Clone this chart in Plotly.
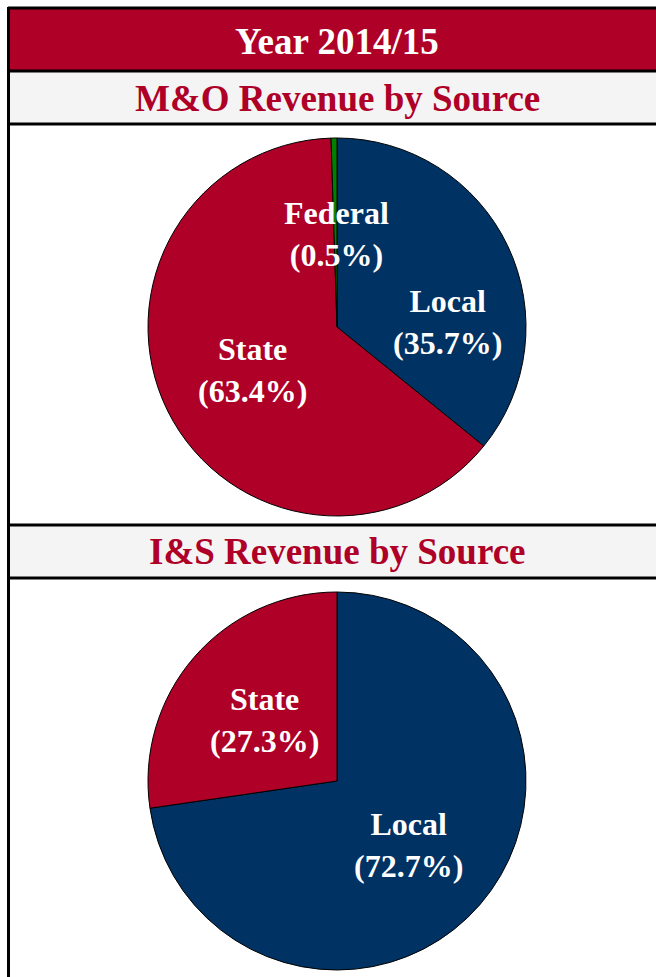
import plotly.graph_objects as go

# chart data
mo_labels = ["Local", "State", "Federal"]
mo_values = [35.7, 63.4, 0.5]
is_labels = ["Local", "State"]
is_values = [72.7, 27.3]

RED = "#AF0028"
NAVY = "#003263"
GREEN = "#008000"
W, H = 656, 977
FONT = "Liberation Serif"


def px_x(x):
    return x / W


def px_y(y):
    return 1 - y / H


def pie_domain(cx, cy, r):
    return dict(x=[px_x(cx - r), px_x(cx + r)], y=[px_y(cy + r), px_y(cy - r)])


fig = go.Figure()

fig.add_trace(go.Pie(
    labels=mo_labels, values=mo_values, sort=False, direction="clockwise",
    marker=dict(colors=[NAVY, RED, GREEN], line=dict(color="black", width=1)),
    textinfo="none", hoverinfo="label+percent", showlegend=False,
    domain=pie_domain(337, 327, 189),
))
fig.add_trace(go.Pie(
    labels=is_labels, values=is_values, sort=False, direction="clockwise",
    marker=dict(colors=[NAVY, RED], line=dict(color="black", width=1)),
    textinfo="none", hoverinfo="label+percent", showlegend=False,
    domain=pie_domain(337, 781, 189),
))

shapes = [
    # header band
    dict(type="rect", x0=px_x(8), x1=px_x(700), y0=px_y(70), y1=px_y(8),
         fillcolor=RED, line=dict(width=0)),
    # grey title bands
    dict(type="rect", x0=px_x(8), x1=px_x(700), y0=px_y(123), y1=px_y(71),
         fillcolor="#F4F4F4", line=dict(width=0)),
    dict(type="rect", x0=px_x(8), x1=px_x(700), y0=px_y(577), y1=px_y(526),
         fillcolor="#F4F4F4", line=dict(width=0)),
]
# black rules
for yy in [8, 71, 124, 525, 578]:
    shapes.append(dict(type="line", x0=px_x(8), x1=px_x(700), y0=px_y(yy), y1=px_y(yy),
                       line=dict(color="black", width=3)))
shapes.append(dict(type="line", x0=px_x(8.5), x1=px_x(8.5), y0=px_y(7), y1=px_y(990),
                   line=dict(color="black", width=3)))

annotations = [
    dict(text="<b>Year 2014/15</b>", x=px_x(337), y=px_y(41), font=dict(size=37, color="white")),
    dict(text="<b>M&O Revenue by Source</b>", x=px_x(337), y=px_y(98), font=dict(size=37, color=RED)),
    dict(text="<b>I&S Revenue by Source</b>", x=px_x(337), y=px_y(551), font=dict(size=37, color=RED)),
]


def pie_label(name, val, x, y):
    return dict(text="<b>%s<br>(%.1f%%)</b>" % (name, val), x=px_x(x), y=px_y(y),
                font=dict(size=32, color="white"))


annotations += [
    pie_label(mo_labels[2], mo_values[2], 336, 234),
    pie_label(mo_labels[0], mo_values[0], 447, 322),
    pie_label(mo_labels[1], mo_values[1], 252, 370),
    pie_label(is_labels[1], is_values[1], 264, 720),
    pie_label(is_labels[0], is_values[0], 408, 845),
]
for a in annotations:
    a.update(xref="paper", yref="paper", showarrow=False, xanchor="center", yanchor="middle")
    a["font"]["family"] = FONT

fig.update_layout(
    width=W, height=H, margin=dict(l=0, r=0, t=0, b=0),
    paper_bgcolor="white", plot_bgcolor="white",
    font=dict(family=FONT),
    shapes=shapes, annotations=annotations,
)

fig.write_html("out.html", config={"displayModeBar": False},
               post_script="document.body.style.margin='0';document.body.style.overflow='hidden';")
